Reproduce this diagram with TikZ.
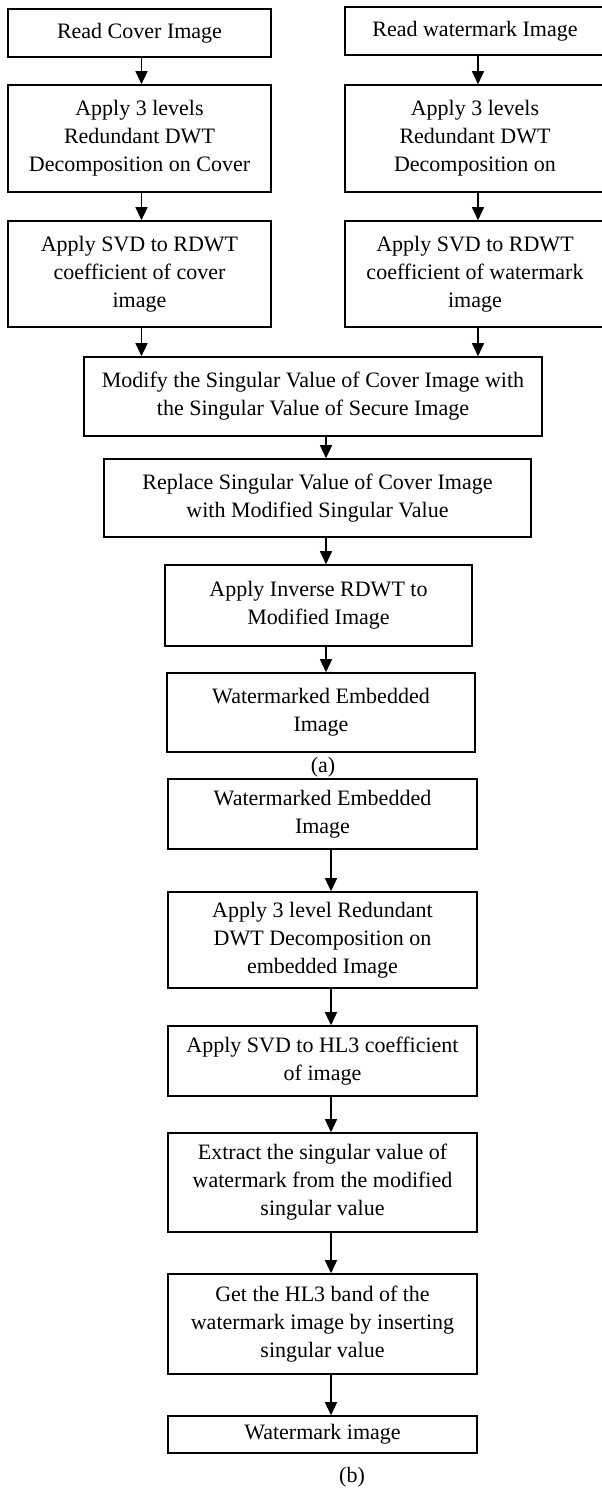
\documentclass[tikz,border=0pt]{standalone}
\usepackage{fontspec}
\setmainfont{Liberation Serif}
\usetikzlibrary{arrows.meta}
\begin{document}
\begin{tikzpicture}[x=1pt,y=-1pt,
  box/.style={draw=black, line width=1.6pt, align=center, inner sep=0pt,
    font=\fontsize{22}{28}\selectfont},
  lbl/.style={inner sep=0pt, font=\fontsize{22}{28}\selectfont},
  arr/.style={line width=1.4pt, -{Triangle[width=12pt,length=13pt]}}]
\useasboundingbox (0,0) rectangle (602,1488);
% arrow columns
\coordinate (axL) at (141.5,0);
\coordinate (axR) at (478,0);
\coordinate (axM) at (326,0);
\coordinate (axB) at (331,0);
% embedding (a)
\node[box, minimum width=263pt, minimum height=48pt] (L1) at (139.5,33) {Read Cover Image};
\node[box, minimum width=260pt, minimum height=48pt] (R1) at (475,31) {Read watermark Image};
\node[box, minimum width=263pt, minimum height=107pt] (L2) at (139.5,138.5) {Apply 3 levels\\Redundant DWT\\Decomposition on Cover};
\node[box, minimum width=260pt, minimum height=107pt] (R2) at (475,138.5) {Apply 3 levels\\Redundant DWT\\Decomposition on};
\node[box, minimum width=263pt, minimum height=106pt] (L3) at (139.5,274) {Apply SVD to RDWT\\coefficient of cover\\image};
\node[box, minimum width=260pt, minimum height=106pt] (R3) at (475,274) {Apply SVD to RDWT\\coefficient of watermark\\image};
\node[box, minimum width=458pt, minimum height=79pt] (M) at (313,396.5) {Modify the Singular Value of Cover Image with\\the Singular Value of Secure Image};
\node[box, minimum width=427pt, minimum height=78pt] (Rep) at (317.5,498) {Replace Singular Value of Cover Image\\with Modified Singular Value};
\node[box, minimum width=307pt, minimum height=81pt] (Inv) at (318.5,605.5) {Apply Inverse RDWT to\\Modified Image};
\node[box, minimum width=308pt, minimum height=79pt] (WE) at (321,712.5) {Watermarked Embedded\\Image};
\node[lbl] (capa) at (323,767) {(a)};
% extraction (b)
\node[box, minimum width=309pt, minimum height=70pt] (B1) at (322.5,814) {Watermarked Embedded\\Image};
\node[box, minimum width=309pt, minimum height=96pt] (B2) at (322.5,940) {Apply 3 level Redundant\\DWT Decomposition on\\embedded Image};
\node[box, minimum width=309pt, minimum height=70pt] (B3) at (322.5,1061) {Apply SVD to HL3 coefficient\\of image};
\node[box, minimum width=309pt, minimum height=99pt] (B4) at (322.5,1182.5) {Extract the singular value of\\watermark from the modified\\singular value};
\node[box, minimum width=309pt, minimum height=100pt] (B5) at (322.5,1324) {Get the HL3 band of the\\watermark image by inserting\\singular value};
\node[box, minimum width=309pt, minimum height=37pt] (B6) at (322.5,1434.5) {Watermark image};
\node[lbl] (capb) at (352,1477) {(b)};
% connectors
\draw[arr] (L1.south -| axL) -- (L2.north -| axL);
\draw[arr] (L2.south -| axL) -- (L3.north -| axL);
\draw[arr] (L3.south -| axL) -- (M.north -| axL);
\draw[arr] (R1.south -| axR) -- (R2.north -| axR);
\draw[arr] (R2.south -| axR) -- (R3.north -| axR);
\draw[arr] (R3.south -| axR) -- (M.north -| axR);
\draw[arr] (M.south -| axM) -- (Rep.north -| axM);
\draw[arr] (Rep.south -| axM) -- (Inv.north -| axM);
\draw[arr] (Inv.south -| axM) -- (WE.north -| axM);
\draw[arr] (B1.south -| axB) -- (B2.north -| axB);
\draw[arr] (B2.south -| axB) -- (B3.north -| axB);
\draw[arr] (B3.south -| axB) -- (B4.north -| axB);
\draw[arr] (B4.south -| axB) -- (B5.north -| axB);
\draw[arr] (B5.south -| axB) -- (B6.north -| axB);
\end{tikzpicture}
\end{document}
